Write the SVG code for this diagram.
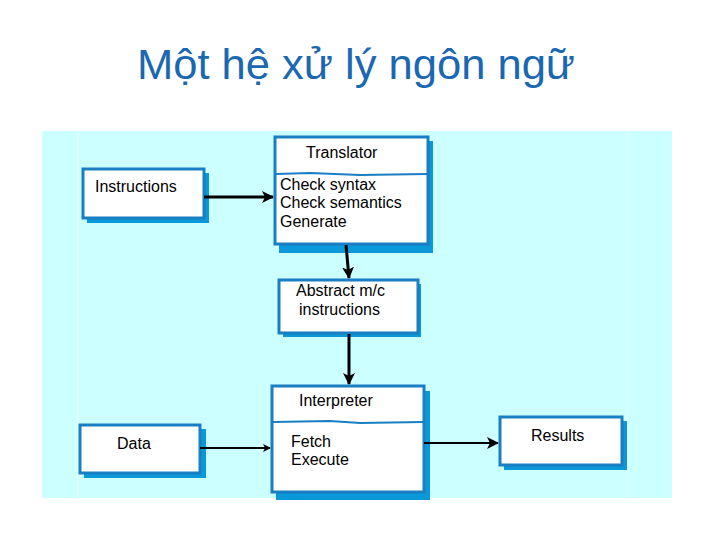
<svg xmlns="http://www.w3.org/2000/svg" width="717" height="538" viewBox="0 0 717 538">
<style>
.bg{fill:#ccffff}
.sh{fill:#0b98d8}
.bx{fill:#ffffff;stroke:#1a7ec2;stroke-width:3}
.dv{stroke:#1a7ec2;stroke-width:2;fill:none}
.t{font-family:"Liberation Sans",Arial,sans-serif;font-size:16px;fill:#000}
.title{font-family:"Liberation Sans",Arial,sans-serif;font-size:42px;fill:#1a67b2}
.c{stroke:#000;fill:none}
</style>
<defs>
<marker id="ah" markerWidth="8" markerHeight="8" refX="7" refY="4" orient="auto" markerUnits="userSpaceOnUse" viewBox="0 0 8 8">
<path d="M0,0 L8,4 L0,8 L2,4 Z" fill="#000"/>
</marker>
<marker id="ah2" markerWidth="12" markerHeight="12" refX="11" refY="6" orient="auto" markerUnits="userSpaceOnUse" viewBox="0 0 12 12">
<path d="M0,0 L12,6 L0,12 L3,6 Z" fill="#000"/>
</marker>
</defs>
<rect width="717" height="538" fill="#ffffff"/>
<rect class="bg" x="42" y="131" width="630" height="367"/>
<line x1="77.5" y1="131" x2="77.5" y2="498" stroke="#e4ffff" stroke-width="1.5"/>
<line x1="627.5" y1="131" x2="627.5" y2="498" stroke="#e4ffff" stroke-width="1.5"/>
<text class="title" x="137" y="79" textLength="438" lengthAdjust="spacingAndGlyphs">Một hệ xử lý ngôn ngữ</text>

<g id="instructions">
<rect class="sh" x="87" y="173" width="122" height="50"/>
<rect class="bx" x="83" y="169" width="121" height="49"/>
<text class="t" x="95" y="192">Instructions</text>
</g>

<g id="translator">
<rect class="sh" x="279" y="141" width="154" height="112"/>
<rect class="bx" x="275" y="137" width="153" height="107"/>
<path class="dv" d="M276,174 L310,173 L360,175 L427,174"/>
<text class="t" x="306" y="158">Translator</text>
<text class="t" x="280" y="190">Check syntax</text>
<text class="t" x="280" y="208">Check semantics</text>
<text class="t" x="280" y="227">Generate</text>
</g>

<g id="abstract">
<rect class="sh" x="283" y="284" width="138" height="53"/>
<rect class="bx" x="279" y="280" width="139" height="53"/>
<text class="t" x="296" y="296">Abstract m/c</text>
<text class="t" x="299" y="315">instructions</text>
</g>

<g id="interpreter">
<rect class="sh" x="276" y="391" width="154" height="109"/>
<rect class="bx" x="272" y="386" width="152" height="106"/>
<path class="dv" d="M273,422 L330,421 L360,423 L423,422"/>
<text class="t" x="299" y="406">Interpreter</text>
<text class="t" x="291" y="447">Fetch</text>
<text class="t" x="291" y="465">Execute</text>
</g>

<g id="data">
<rect class="sh" x="84" y="429" width="122" height="49"/>
<rect class="bx" x="80" y="425" width="120" height="48"/>
<text class="t" x="117" y="449">Data</text>
</g>

<g id="results">
<rect class="sh" x="504" y="421" width="123" height="49"/>
<rect class="bx" x="500" y="417" width="122" height="48"/>
<text class="t" x="531" y="441">Results</text>
</g>

<g id="connectors">
<line class="c" x1="204" y1="197" x2="273" y2="197" stroke-width="3" marker-end="url(#ah2)"/>
<line class="c" x1="346" y1="245" x2="349" y2="278" stroke-width="3" marker-end="url(#ah2)"/>
<line class="c" x1="349" y1="334" x2="349" y2="384" stroke-width="3" marker-end="url(#ah2)"/>
<line class="c" x1="200" y1="448" x2="270" y2="448" stroke-width="2" marker-end="url(#ah)"/>
<line class="c" x1="424" y1="443" x2="498" y2="443" stroke-width="2" marker-end="url(#ah2)"/>
</g>
</svg>
